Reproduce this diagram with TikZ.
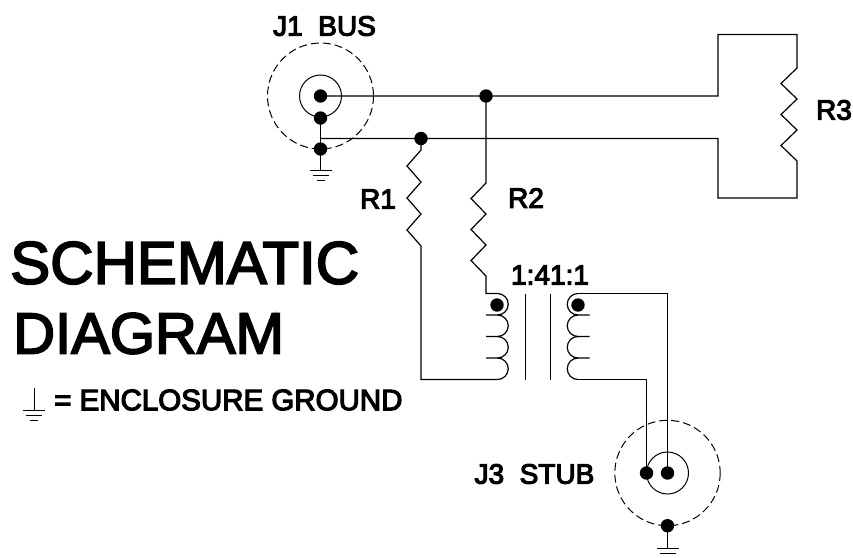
\documentclass[tikz,border=0pt]{standalone}
\usepackage{fontspec}
\setmainfont{Liberation Sans}
\newfontfamily\labelfont[FakeBold=4]{Liberation Sans}
\newfontfamily\titlefont[FakeBold=3]{Liberation Sans}

\tikzset{
    wire/.style = {line width=1.2pt, line join=miter},
    thinwire/.style = {line width=1pt},
    shield/.style = {line width=1pt, dash pattern=on 8pt off 4pt},
    dot/.style = {circle, fill=black, inner sep=0pt, minimum size=13.4pt},
    point/.style = {inner sep=0pt, minimum size=0pt},
    smalllabel/.style = {font=\fontsize{28}{30}\selectfont\labelfont, inner sep=0pt},
    biglabel/.style = {inner sep=0pt, anchor=west}
}
\newcommand{\groundbars}[1]{
    \draw[thinwire] (#1) ++(-11,0) -- ++(22,0);
    \draw[thinwire] (#1) ++(-8,5) -- ++(16,0);
    \draw[thinwire] (#1) ++(-4,10) -- ++(8,0);
}

\begin{document}
\begin{tikzpicture}[x = 1pt, y = -1pt]
    \useasboundingbox (0,0) rectangle (853,557);

    % J1 connector
    \node[dot] (j1core) at (320.5,96) {};
    \node[dot] (j1shell) at (320.5,118) {};
    \node[dot] (j1case) at (320.5,149) {};
    \node[point] (j1gnd) at (320.5,170) {};
    \draw[shield] (j1core.center) circle (53);
    \draw[thinwire] (j1core.center) circle (21);
    \node[dot] (top) at (486,96) {};
    \node[dot] (low) at (421,138.5) {};
    \node[point] (lowtee) at (320.5,138.5) {};
    \draw[wire] (j1shell.center) -- (j1case.center) -- (j1gnd.center);
    \groundbars{j1gnd}

    % R3 across the bus
    \node[point] (r3top) at (718,96) {};
    \node[point] (r3low) at (718,138.5) {};
    \draw[wire] (j1core.center) -- (top.center) -- (r3top.center) |- (797,34.5) -- (797,68)
        -- ++(-16,15.5) -- ++(16,15.5) -- ++(-16,15.5) -- ++(16,15.5) -- ++(-16,15.5) -- ++(16,15.5)
        -- (797,198) -| (r3low.center) -- (low.center) -- (lowtee.center);

    % transformer
    \node[dot] (pridot) at (497,305) {};
    \node[dot] (secdot) at (578,305) {};
    \node[point] (pritop) at (497.5,293.5) {};
    \node[point] (pribot) at (497.5,379.5) {};
    \node[point] (sectop) at (578,293.5) {};
    \node[point] (secbot) at (578,379.5) {};
    \draw[wire] (pritop.center) arc (-90:90:10.75) -- ++(-11.5,0);
    \draw[wire] (497.5,315) arc (-90:90:10.75) -- ++(-11.5,0);
    \draw[wire] (497.5,336.5) arc (-90:90:10.75) -- ++(-11.5,0);
    \draw[wire] (497.5,358) arc (-90:90:10.75);
    \draw[wire] (sectop.center) arc (270:90:10.75) -- ++(11.5,0);
    \draw[wire] (578,315) arc (270:90:10.75) -- ++(11.5,0);
    \draw[wire] (578,336.5) arc (270:90:10.75) -- ++(11.5,0);
    \draw[wire] (578,358) arc (270:90:10.75);
    \draw[thinwire] (525,293.5) -- (525,379.5);
    \draw[thinwire] (550,293.5) -- (550,379.5);

    % R1 and R2
    \draw[wire] (low.center) -- (421,150)
        -- ++(-14,16) -- ++(14,16) -- ++(-14,16) -- ++(14,16) -- ++(-14,16) -- ++(14,16)
        -- (421,379.5) -- (pribot.center);
    \draw[wire] (top.center) -- (486,183)
        -- ++(-15,15.5) -- ++(15,15.5) -- ++(-15,15.5) -- ++(15,15.5) -- ++(-15,15.5) -- ++(15,15.5)
        -- (486,293.5) -- (pritop.center);

    % J3 connector
    \node[dot] (j3core) at (667.5,473) {};
    \node[dot] (j3shell) at (646.5,473) {};
    \node[dot] (j3case) at (667.5,525.7) {};
    \node[point] (j3gnd) at (667.5,548) {};
    \draw[shield] (j3core.center) circle (52.7);
    \draw[thinwire] (j3core.center) circle (21);
    \draw[wire] (sectop.center) -| (j3core.center);
    \draw[wire] (secbot.center) -| (j3shell.center);
    \draw[wire] (j3case.center) -- (j3gnd.center);
    \groundbars{j3gnd}

    % labels
    \node[smalllabel] (j1label) at (324.5,26) {J1\ \ BUS};
    \node[smalllabel] (r1label) at (378,199) {R1};
    \node[smalllabel] (r2label) at (526,198) {R2};
    \node[smalllabel] (r3label) at (834,110) {R3};
    \node[smalllabel] (ratio) at (550,275) {1:41:1};
    \node[smalllabel] (j3label) at (534.5,474) {J3\ \ STUB};
    \node[biglabel, font=\fontsize{60}{62}\selectfont\titlefont] (title) at (10,263) {SCHEMATIC};
    \node[biglabel, font=\fontsize{58}{60}\selectfont\titlefont] (subtitle) at (13,333.5) {DIAGRAM};

    % ground legend
    \node[point] (legendtop) at (34,388) {};
    \node[point] (legendgnd) at (34,410) {};
    \draw[thinwire] (legendtop.center) -- (legendgnd.center);
    \groundbars{legendgnd}
    \node[smalllabel, anchor=west, font=\fontsize{29.5}{32}\selectfont\labelfont] (legend) at (54,400) {= ENCLOSURE GROUND};
\end{tikzpicture}
\end{document}
